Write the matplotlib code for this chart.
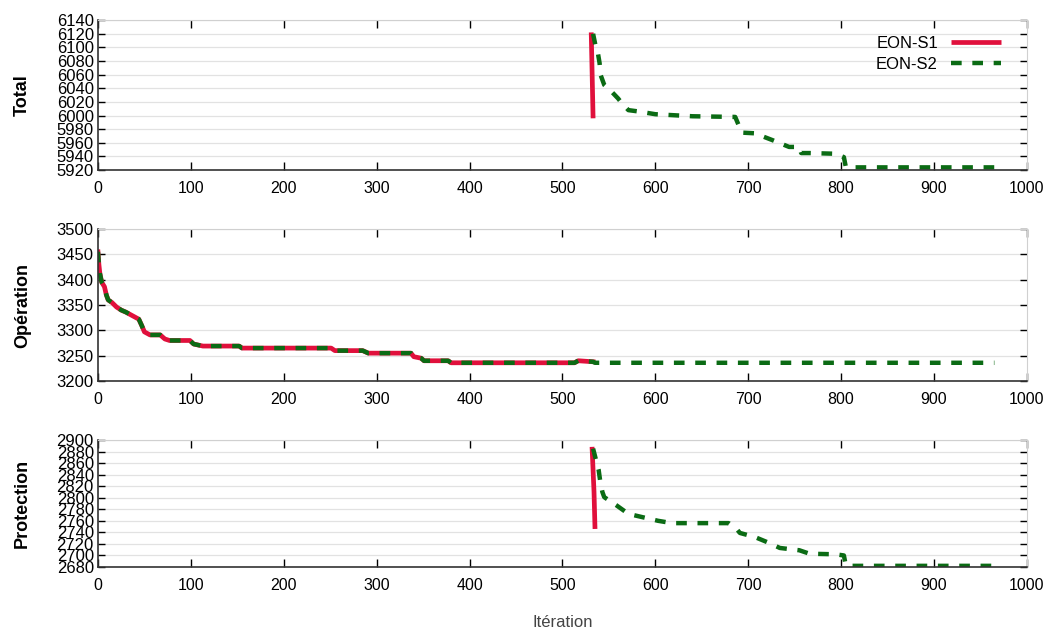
import matplotlib.pyplot as plt
import numpy as np

plt.rcParams['font.family'] = ['Liberation Sans', 'DejaVu Sans']

# Total
tot_s1_x = [531, 532, 533]
tot_s1_y = [6122, 6060, 5996]
tot_s2_x = [533, 536, 538, 540, 541, 545, 553, 560, 564, 571, 582, 600, 640, 686,
            690, 693, 707, 726, 744, 755, 757, 766, 794, 803, 805, 812, 965]
tot_s2_y = [6120, 6100, 6093, 6077, 6060, 6045, 6035, 6025, 6018, 6008, 6006, 6002,
            5999, 5998, 5985, 5975, 5974, 5964, 5954, 5954, 5945, 5945, 5944, 5939,
            5925, 5924, 5924]

# Opération
op_x = [0, 1, 2, 4, 7, 9, 11, 15, 20, 25, 30, 38, 44, 47, 50, 56, 67, 72, 77, 99,
        103, 113, 152, 155, 251, 255, 285, 291, 337, 340, 348, 351, 377, 380, 513,
        517, 533]
op_y = [3455, 3430, 3413, 3395, 3386, 3370, 3360, 3355, 3346, 3340, 3336, 3328,
        3322, 3310, 3297, 3291, 3291, 3283, 3280, 3280, 3273, 3269, 3269, 3265,
        3265, 3260, 3260, 3255, 3255, 3248, 3245, 3240, 3240, 3236, 3236, 3240, 3238]
op_s2_tail_x = [535, 965]
op_s2_tail_y = [3236, 3236]

# Protection
pro_s1_x = [532, 534, 535]
pro_s1_y = [2884, 2810, 2750]
pro_s2_x = [533, 537, 539, 541, 543, 545, 558, 571, 587, 603, 618, 679, 688, 691,
            707, 722, 734, 755, 766, 794, 803, 805, 812, 965]
pro_s2_y = [2885, 2860, 2848, 2825, 2810, 2801, 2787, 2772, 2766, 2760, 2756, 2756,
            2745, 2739, 2732, 2722, 2713, 2709, 2703, 2702, 2700, 2683, 2682, 2682]

red = '#e0103c'
green = '#0b6b14'
dash = (2.4, 2.4)

fig = plt.figure(figsize=(10.5, 6.3), dpi=100)

panels = [
    ([0.0933, 0.730, 0.8847, 0.238], 'Total', 5920, 6140, 20),
    ([0.0933, 0.3952, 0.8847, 0.2413], 'Opération', 3200, 3500, 50),
    ([0.0933, 0.100, 0.8847, 0.2016], 'Protection', 2680, 2900, 20),
]

axes = []
for rect, label, lo, hi, step in panels:
    ax = fig.add_axes(rect)
    ax.set_xlim(0, 1000)
    ax.set_ylim(lo, hi)
    ax.set_xticks(np.arange(0, 1001, 100))
    ax.set_yticks(np.arange(lo, hi + 1, step))
    ax.tick_params(direction='in', top=True, right=True, width=1)
    ax.tick_params(axis='x', length=6, pad=8, labelsize=11.5)
    ax.tick_params(axis='y', length=5, pad=3, labelsize=12)
    ax.grid(True, axis='y', color='#e2e2e2', linewidth=0.9)
    ax.set_axisbelow(True)
    for s in ['top', 'right']:
        ax.spines[s].set_color('#d0d0d0')
    for s in ['left', 'bottom']:
        ax.spines[s].set_color('#333333')
        ax.spines[s].set_linewidth(1.2)
    ax.set_ylabel(label, fontsize=13, fontweight='bold')
    ax.yaxis.set_label_coords(-0.072, 0.5)
    axes.append(ax)

# 1 Total
ax = axes[0]
ax.plot(tot_s1_x, tot_s1_y, color=red, lw=3.4, label='EON-S1', solid_capstyle='butt')
ax.plot(tot_s2_x, tot_s2_y, color=green, lw=3.2, dashes=dash, label='EON-S2')
ax.legend(loc='upper right', frameon=False, fontsize=12, markerfirst=False,
          handlelength=3.0, borderaxespad=0.3, labelspacing=0.35,
          bbox_to_anchor=(0.985, 0.97))

# 2 Opération
ax = axes[1]
ax.plot(op_x, op_y, color=red, lw=3.4)
ax.plot(op_x + op_s2_tail_x, op_y + op_s2_tail_y, color=green, lw=3.2, dashes=dash)

# 3 Protection
ax = axes[2]
ax.plot(pro_s1_x, pro_s1_y, color=red, lw=3.4)
ax.plot(pro_s2_x, pro_s2_y, color=green, lw=3.2, dashes=dash)
ax.set_xlabel('Itération', fontsize=12, color='#444444', labelpad=16)

fig.savefig('out.png', dpi=100)
